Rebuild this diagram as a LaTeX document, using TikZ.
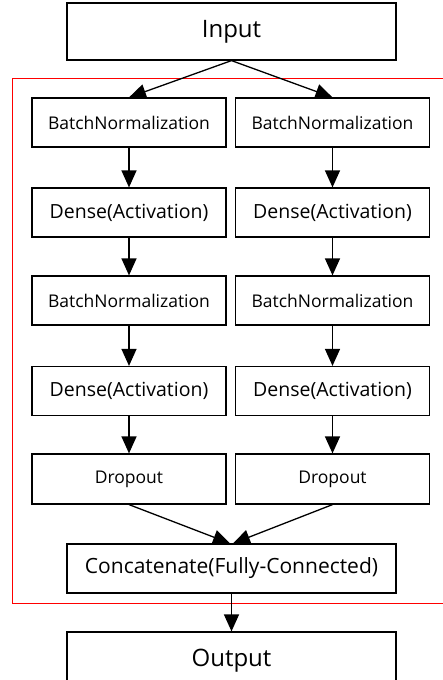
\documentclass[tikz,border=0pt]{standalone}
\usepackage{fontspec}
\setmainfont{Open Sans}
\usetikzlibrary{arrows.meta}

\begin{document}
\begin{tikzpicture}[x=1pt, y=-1pt,
	box/.style={draw, line width=1.2pt, inner sep=0pt, minimum width=194pt, minimum height=49pt},
	big/.style={box, minimum width=329pt},
	arr/.style={line width=1.3pt, -{Triangle[length=17pt, width=15pt]}}]
	%%%%% START %%%%%
	\useasboundingbox (0, 0) rectangle (442, 680);
	
	\draw[red, line width=1pt] (12, 78) rectangle (450, 603);
	
	\node[big, minimum height=57pt] (input) at (231.5, 31.5) {\fontsize{24}{28}\selectfont Input};
	
	\node[box] (bnA1) at (129, 122.5) {\fontsize{17.5}{20}\selectfont BatchNormalization};
	\node[box] (bnB1) at (332.5, 122.5) {\fontsize{17.5}{20}\selectfont BatchNormalization};
	
	\node[box] (dnA1) at (129, 212.5) {\fontsize{19.5}{22}\selectfont Dense(Activation)};
	\node[box] (dnB1) at (332.5, 212.5) {\fontsize{19.5}{22}\selectfont Dense(Activation)};
	
	\node[box] (bnA2) at (129, 300.5) {\fontsize{17.5}{20}\selectfont BatchNormalization};
	\node[box] (bnB2) at (332.5, 300.5) {\fontsize{17.5}{20}\selectfont BatchNormalization};
	
	\node[box] (dnA2) at (129, 391) {\fontsize{19.5}{22}\selectfont Dense(Activation)};
	\node[box] (dnB2) at (332.5, 391) {\fontsize{19.5}{22}\selectfont Dense(Activation)};
	
	\node[box, minimum height=50pt] (drA) at (129, 479) {\fontsize{17.5}{20}\selectfont Dropout};
	\node[box, minimum height=50pt] (drB) at (332.5, 479) {\fontsize{17.5}{20}\selectfont Dropout};
	
	\node[big] (cat) at (231.5, 568.5) {\fontsize{21}{24}\selectfont Concatenate(Fully-Connected)};
	
	\node[big, minimum height=57pt] (output) at (231.5, 660.5) {\fontsize{24}{28}\selectfont Output};
	
	\draw[arr] (input.south) -- (bnA1.north);
	\draw[arr] (input.south) -- (bnB1.north);
	
	\draw[arr] (bnA1) -- (dnA1);
	\draw[arr] (bnB1) -- (dnB1);
	\draw[arr] (dnA1) -- (bnA2);
	\draw[arr] (dnB1) -- (bnB2);
	\draw[arr] (bnA2) -- (dnA2);
	\draw[arr] (bnB2) -- (dnB2);
	\draw[arr] (dnA2) -- (drA);
	\draw[arr] (dnB2) -- (drB);
	
	\draw[arr] (drA.south) -- ([xshift=-1.5pt]cat.north);
	\draw[arr] (drB.south) -- ([xshift=1.5pt]cat.north);
	
	\draw[arr] (cat) -- (output);
	%%%%% END %%%%%
\end{tikzpicture}
\end{document}
